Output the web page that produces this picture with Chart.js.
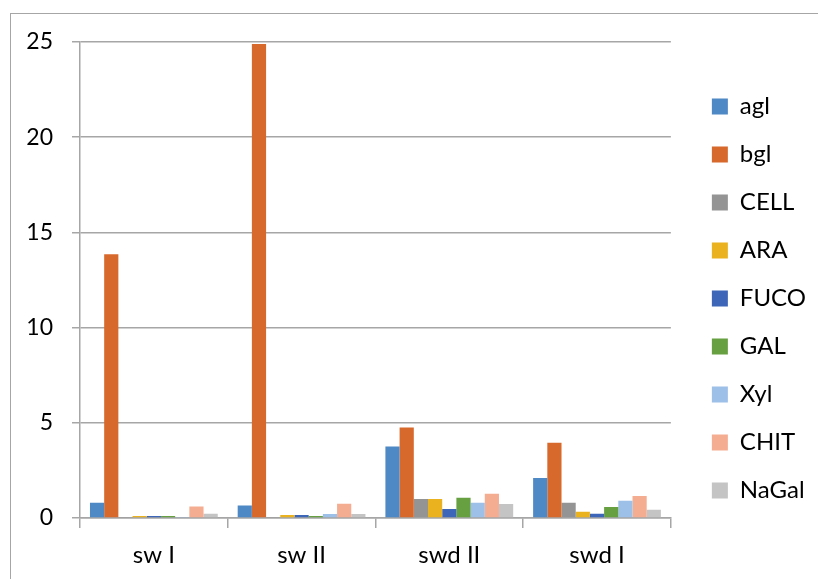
<!DOCTYPE html>
<html>
<head>
<meta charset="utf-8">
<script src="https://cdn.jsdelivr.net/npm/chart.js@4/dist/chart.umd.min.js"></script>
<style>
  html, body { margin: 0; padding: 0; background: #fff; overflow: hidden; }
  #wrap { position: relative; width: 818px; height: 579px; }
  #frame {
    position: absolute; left: 10px; top: 13px; width: 900px; height: 700px;
    border: 1px solid #a6a6a6; pointer-events: none;
  }
  canvas { position: absolute; left: 0; top: 0; }
</style>
</head>
<body>
<div id="wrap">
  <canvas id="chart" width="818" height="579"></canvas>
  <div id="frame"></div>
</div>
<script>
// categories on the x axis
const samples = ['sw I', 'sw II', 'swd II', 'swd I'];

// one array per enzyme
const agl   = [0.8, 0.65, 3.75, 2.1];
const bgl   = [13.85, 24.9, 4.75, 3.95];
const cell  = [0.05, 0.03, 1.0, 0.8];
const ara   = [0.1, 0.16, 1.0, 0.33];
const fuco  = [0.1, 0.16, 0.47, 0.22];
const gal   = [0.1, 0.1, 1.07, 0.58];
const xyl   = [0.05, 0.21, 0.8, 0.9];
const chit  = [0.6, 0.75, 1.27, 1.16];
const nagal = [0.22, 0.21, 0.74, 0.43];

const seriesNames = ['agl', 'bgl', 'CELL', 'ARA', 'FUCO', 'GAL', 'Xyl', 'CHIT', 'NaGal'];
const seriesValues = [agl, bgl, cell, ara, fuco, gal, xyl, chit, nagal];
const seriesColors = ['#4e88c5', '#d8692c', '#949494', '#eab21f', '#3d66b8',
  '#66a040', '#9dc0e8', '#f4ad91', '#c4c4c4'];

const yTicks = [0, 5, 10, 15, 20, 25];

Chart.defaults.font.family = 'Lato, "Liberation Sans", sans-serif';
Chart.defaults.font.size = 24;
Chart.defaults.color = '#000';

const gridColor = '#a6a6a6';

// empty axes used only as fixed gaps around the plot
const gap = size => ({
  type: 'linear',
  display: true,
  grid: { display: false },
  border: { display: false },
  ticks: { display: false },
  afterFit: scale => {
    if (scale.isHorizontal()) scale.height = size;
    else scale.width = size;
  }
});

new Chart(document.getElementById('chart'), {
  type: 'bar',
  data: {
    labels: samples,
    datasets: seriesNames.map((name, i) => ({
      label: name,
      data: seriesValues[i],
      backgroundColor: seriesColors[i],
      borderWidth: 0,
      categoryPercentage: 0.865,
      barPercentage: 1
    }))
  },
  options: {
    responsive: false,
    animation: false,
    events: [],
    layout: { padding: { top: 18, right: 2, bottom: 0, left: 0 } },
    plugins: {
      legend: {
        position: 'right',
        align: 'center',
        labels: {
          boxWidth: 16,
          boxHeight: 16,
          padding: 24,
          font: { size: 24 }
        }
      },
      tooltip: { enabled: false }
    },
    scales: {
      x: {
        grid: {
          drawOnChartArea: false,
          drawTicks: true,
          tickLength: 10,
          color: gridColor,
          lineWidth: 1.5
        },
        border: { display: true, color: gridColor, width: 1.5 },
        ticks: { padding: 13, font: { size: 24 } },
        afterFit: scale => { scale.height = 61; }
      },
      y: {
        min: 0,
        max: 25,
        afterBuildTicks: scale => { scale.ticks = yTicks.map(v => ({ value: v })); },
        grid: {
          color: gridColor,
          lineWidth: 1.5,
          tickLength: 8
        },
        border: { display: true, color: gridColor, width: 1.5 },
        ticks: { padding: 19, font: { size: 23 } },
        afterFit: scale => { scale.width = 80; }
      },
      gapTop: { ...gap(24), position: 'top' },
      gapRight: { ...gap(17), position: 'right' }
    }
  }
});
</script>
</body>
</html>
